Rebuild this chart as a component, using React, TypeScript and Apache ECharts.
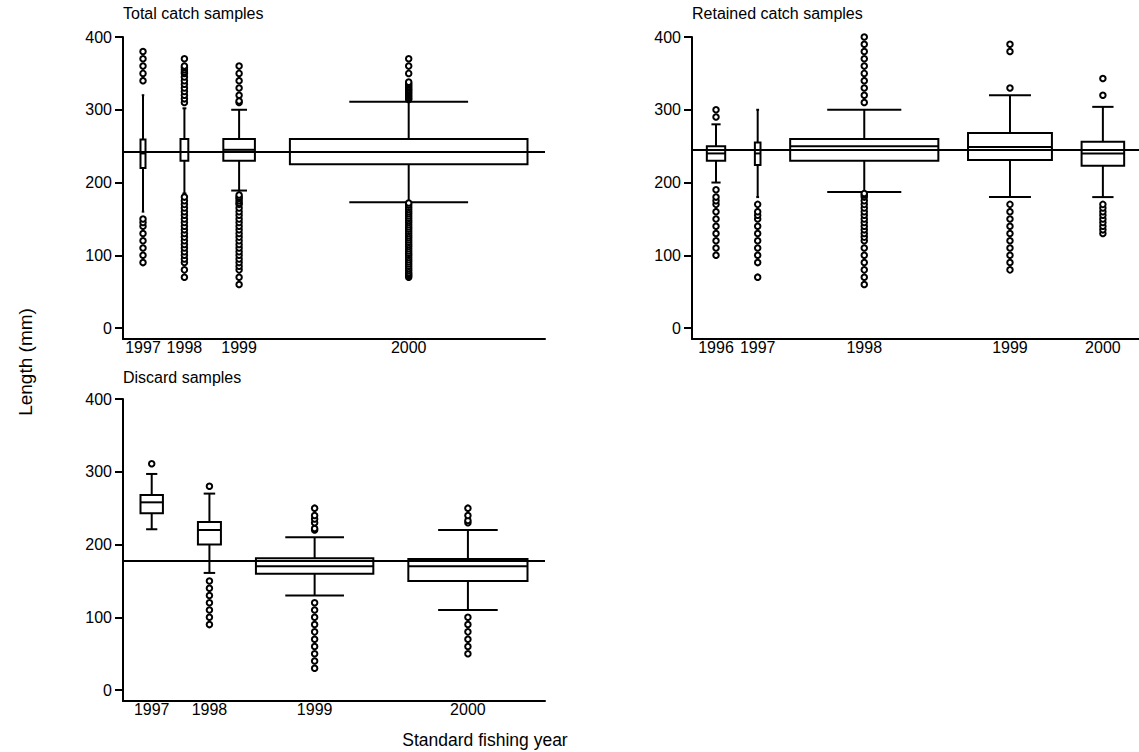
import { useEffect, useRef } from "react";
import * as echarts from "echarts";

// ---- Total catch samples ----
const totalYears = ["1997", "1998", "1999", "2000"];
const totalN = [160, 250, 1010, 7600];
const totalLow = [160, 185, 189, 173];
const totalQ1 = [220, 230, 230, 225];
const totalMedian = [240, 242, 245, 242];
const totalQ3 = [259, 260, 260, 260];
const totalHigh = [320, 302, 300, 311];
const totalOutliers = [
  [340, 350, 360, 370, 380, 90, 100, 110, 120, 130, 140, 145, 150],
  [310, 315, 320, 325, 330, 335, 340, 345, 350, 352, 355, 358, 360, 370,
    70, 80, 90, 95, 100, 105, 110, 115, 120, 125, 130, 135, 140, 145, 150, 155, 160, 165, 170, 175, 180],
  [310, 312, 320, 330, 340, 350, 360,
    60, 70, 80, 85, 90, 95, 100, 105, 110, 115, 120, 125, 130, 135, 140, 145, 150, 155, 160, 165, 170, 172, 175, 178, 180, 183],
  [314, 316, 318, 320, 322, 324, 326, 328, 330, 332, 334, 336, 338, 350, 360, 370,
    70, 72, 74, 76, 79, 82, 85, 88, 91, 94, 97, 100, 103, 106, 109, 112, 115, 118, 121, 124, 127, 130,
    133, 136, 139, 142, 145, 148, 151, 154, 157, 160, 163, 166, 169, 172],
];
const totalOverall = 242;

// ---- Retained catch samples ----
const retainedYears = ["1996", "1997", "1998", "1999", "2000"];
const retainedN = [440, 135, 3550, 2010, 1020];
const retainedLow = [200, 180, 187, 180, 180];
const retainedQ1 = [230, 224, 230, 231, 223];
const retainedMedian = [240, 240, 250, 249, 240];
const retainedQ3 = [250, 255, 260, 268, 256];
const retainedHigh = [280, 300, 300, 320, 304];
const retainedOutliers = [
  [290, 300, 100, 110, 120, 130, 140, 150, 160, 170, 175, 180, 190],
  [70, 90, 100, 110, 120, 130, 140, 150, 155, 160, 170],
  [310, 320, 330, 340, 350, 360, 370, 380, 390, 400,
    60, 70, 80, 90, 100, 110, 120, 125, 130, 135, 140, 145, 150, 155, 160, 165, 170, 175, 180, 183, 185],
  [330, 380, 390, 80, 90, 100, 110, 120, 130, 140, 150, 160, 170],
  [320, 343, 130, 135, 140, 145, 150, 155, 160, 165, 170],
];
const retainedOverall = 245;

// ---- Discard samples ----
const discardYears = ["1997", "1998", "1999", "2000"];
const discardN = [190, 195, 995, 1010];
const discardLow = [221, 161, 130, 110];
const discardQ1 = [243, 200, 160, 150];
const discardMedian = [258, 220, 170, 170];
const discardQ3 = [268, 231, 181, 180];
const discardHigh = [297, 270, 210, 220];
const discardOutliers = [
  [311],
  [280, 90, 100, 110, 120, 130, 140, 150],
  [220, 222, 230, 235, 240, 250, 30, 40, 50, 60, 70, 80, 90, 100, 110, 120],
  [230, 233, 240, 250, 50, 60, 70, 80, 90, 100],
];
const discardOverall = 178;

const yTicks = [0, 100, 200, 300, 400];

const FONT = "'Liberation Sans', Arial, Helvetica, sans-serif";
const INK = "#000";
const LW = 2;

type PanelData = {
  title: string;
  years: string[];
  n: number[];
  low: number[];
  q1: number[];
  median: number[];
  q3: number[];
  high: number[];
  outliers: number[][];
  overall: number;
};

type PanelLayout = {
  left: number;
  top: number;
  width: number;
  height: number;
  gapPx: number;
  titleX: number;
  titleY: number;
};

const panels: { data: PanelData; layout: PanelLayout }[] = [
  {
    data: {
      title: "Total catch samples",
      years: totalYears, n: totalN, low: totalLow, q1: totalQ1, median: totalMedian,
      q3: totalQ3, high: totalHigh, outliers: totalOutliers, overall: totalOverall,
    },
    layout: { left: 123, top: 37, width: 422, height: 302, gapPx: 35, titleX: 123, titleY: 13 },
  },
  {
    data: {
      title: "Retained catch samples",
      years: retainedYears, n: retainedN, low: retainedLow, q1: retainedQ1, median: retainedMedian,
      q3: retainedQ3, high: retainedHigh, outliers: retainedOutliers, overall: retainedOverall,
    },
    layout: { left: 692, top: 37, width: 452, height: 302, gapPx: 30, titleX: 692, titleY: 13 },
  },
  {
    data: {
      title: "Discard samples",
      years: discardYears, n: discardN, low: discardLow, q1: discardQ1, median: discardMedian,
      q3: discardQ3, high: discardHigh, outliers: discardOutliers, overall: discardOverall,
    },
    layout: { left: 123, top: 399, width: 422, height: 302, gapPx: 35, titleX: 123, titleY: 377 },
  },
];

// Box widths are proportional to sample size; boxes sit side by side with a fixed gap.
function slotLayout(n: number[], widthPx: number, gapPx: number) {
  const sum = n.reduce((a, b) => a + b, 0);
  const pxPerUnit = (widthPx - n.length * gapPx) / sum;
  const gapUnits = gapPx / pxPerUnit;
  const total = widthPx / pxPerUnit;
  const centers: number[] = [];
  let start = gapUnits / 2;
  n.forEach((v) => {
    centers.push(start + v / 2);
    start += v + gapUnits;
  });
  return { centers, total };
}

function buildOption() {
  const grid: any[] = [];
  const xAxis: any[] = [];
  const yAxis: any[] = [];
  const series: any[] = [];
  const graphic: any[] = [];

  panels.forEach(({ data, layout }, i) => {
    const { centers, total } = slotLayout(data.n, layout.width, layout.gapPx);

    grid.push({ left: layout.left, top: layout.top, width: layout.width, height: layout.height });

    xAxis.push({
      type: "value",
      gridIndex: i,
      min: 0,
      max: total,
      axisLine: { show: true, onZero: false, lineStyle: { color: INK, width: LW } },
      axisTick: { show: false },
      splitLine: { show: false },
      axisLabel: {
        customValues: centers,
        margin: 0,
        color: INK,
        fontSize: 16,
        fontFamily: FONT,
        formatter: (v: number) => {
          let best = 0;
          centers.forEach((c, k) => {
            if (Math.abs(c - v) < Math.abs(centers[best] - v)) best = k;
          });
          return data.years[best];
        },
      },
    });

    yAxis.push({
      type: "value",
      gridIndex: i,
      min: -15,
      max: 400,
      axisLine: { show: true, onZero: false, lineStyle: { color: INK, width: LW } },
      axisTick: { show: true, inside: false, length: 8, customValues: yTicks, lineStyle: { color: INK, width: LW } },
      splitLine: { show: false },
      axisLabel: { customValues: yTicks, margin: 11, color: INK, fontSize: 16, fontFamily: FONT },
    });

    const boxData = data.years.map((_, k) => [
      centers[k], data.low[k], data.q1[k], data.median[k], data.q3[k], data.high[k], data.n[k],
    ]);

    series.push({
      type: "custom",
      xAxisIndex: i,
      yAxisIndex: i,
      silent: true,
      data: boxData,
      renderItem: (_params: any, api: any) => {
        const x = api.value(0);
        const cx = api.coord([x, api.value(1)])[0];
        const yLow = api.coord([x, api.value(1)])[1];
        const yQ1 = api.coord([x, api.value(2)])[1];
        const yMed = api.coord([x, api.value(3)])[1];
        const yQ3 = api.coord([x, api.value(4)])[1];
        const yHigh = api.coord([x, api.value(5)])[1];
        const bw = api.size([api.value(6), 0])[0];
        const cap = bw / 4;
        const style = { stroke: INK, lineWidth: LW, fill: "none" };
        return {
          type: "group",
          children: [
            { type: "line", shape: { x1: cx, y1: yQ3, x2: cx, y2: yHigh }, style },
            { type: "line", shape: { x1: cx, y1: yQ1, x2: cx, y2: yLow }, style },
            { type: "line", shape: { x1: cx - cap, y1: yHigh, x2: cx + cap, y2: yHigh }, style },
            { type: "line", shape: { x1: cx - cap, y1: yLow, x2: cx + cap, y2: yLow }, style },
            { type: "rect", shape: { x: cx - bw / 2, y: yQ3, width: bw, height: yQ1 - yQ3 }, style },
            { type: "line", shape: { x1: cx - bw / 2, y1: yMed, x2: cx + bw / 2, y2: yMed }, style },
          ],
        };
      },
    });

    const pts: number[][] = [];
    data.outliers.forEach((vals, k) => vals.forEach((v) => pts.push([centers[k], v])));

    series.push({
      type: "scatter",
      xAxisIndex: i,
      yAxisIndex: i,
      silent: true,
      symbol: "circle",
      symbolSize: 5.5,
      itemStyle: { color: "#fff", borderColor: INK, borderWidth: 2, opacity: 1 },
      data: pts,
      markLine: {
        silent: true,
        symbol: ["none", "none"],
        label: { show: false },
        lineStyle: { color: INK, width: LW, type: "solid" },
        data: [{ yAxis: data.overall }],
      },
    });

    graphic.push({
      type: "text",
      x: layout.titleX,
      y: layout.titleY,
      style: {
        text: data.title,
        fill: INK,
        fontSize: 16,
        fontFamily: FONT,
        textAlign: "left",
        textVerticalAlign: "middle",
      },
    });
  });

  graphic.push({
    type: "text",
    x: 485,
    y: 740,
    style: {
      text: "Standard fishing year",
      fill: INK,
      fontSize: 17.5,
      fontFamily: FONT,
      textAlign: "center",
      textVerticalAlign: "middle",
    },
  });
  graphic.push({
    type: "text",
    x: 25,
    y: 362,
    rotation: Math.PI / 2,
    style: {
      text: "Length (mm)",
      fill: INK,
      fontSize: 19,
      fontFamily: FONT,
      textAlign: "center",
      textVerticalAlign: "middle",
    },
  });

  return {
    animation: false,
    backgroundColor: "#fff",
    grid,
    xAxis,
    yAxis,
    series,
    graphic,
  };
}

export default function App() {
  const ref = useRef<HTMLDivElement>(null);
  useEffect(() => {
    if (!ref.current) return;
    const chart = echarts.init(ref.current, undefined, { renderer: "svg" });
    chart.setOption(buildOption());
    return () => chart.dispose();
  }, []);
  return (
    <div
      ref={ref}
      style={{ position: "absolute", left: 0, top: 0, width: 1139, height: 752, overflow: "hidden" }}
    />
  );
}
